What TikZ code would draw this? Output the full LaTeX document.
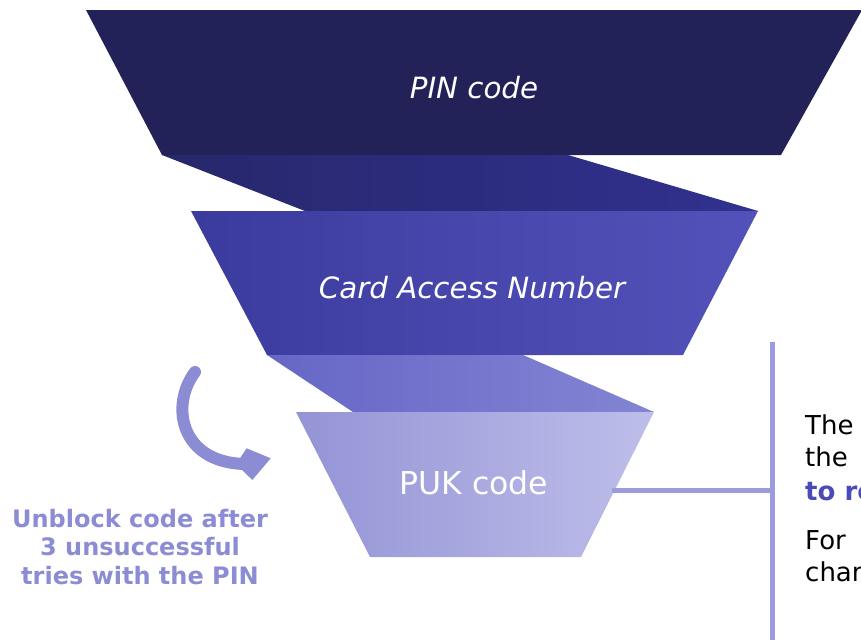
\documentclass[tikz,border=0pt]{standalone}
\usepackage{fontspec}
\setmainfont{DejaVu Sans}
\definecolor{cTop}{HTML}{222259}
\definecolor{cBandAl}{HTML}{27276C}
\definecolor{cBandAr}{HTML}{313190}
\definecolor{cMidl}{HTML}{3B3B9E}
\definecolor{cMidr}{HTML}{5252BA}
\definecolor{cBandBl}{HTML}{6666C6}
\definecolor{cBandBr}{HTML}{8484D4}
\definecolor{cLowl}{HTML}{9494D6}
\definecolor{cLowr}{HTML}{BEBEEA}
\definecolor{cArrow}{HTML}{8C8CD4}
\definecolor{cLine}{HTML}{9C9CDC}
\definecolor{cEmph}{HTML}{4A4AB8}
\tikzset{
  biglabel/.style={text=white, inner sep=0pt, font=\fontsize{29}{34}\selectfont},
  sidetext/.style={anchor=west, inner sep=0pt, text=black, font=\fontsize{26}{30}\selectfont},
  connline/.style={draw=cLine, line width=5pt},
}
\begin{document}
\begin{tikzpicture}[x=1pt,y=-1pt]
\useasboundingbox (0,0) rectangle (861,640);
\begin{scope}
\clip (0,0) rectangle (861,640);
% funnel
\fill[cTop] (86,10) -- (862,10) -- (781,155) -- (162,155) -- cycle;
\shade[left color=cBandAl, right color=cBandAr] (162,155) -- (568,155) -- (758,211) -- (305,211) -- cycle;
\shade[left color=cMidl, right color=cMidr] (191,211) -- (758,211) -- (683,355) -- (267,355) -- cycle;
\shade[left color=cBandBl, right color=cBandBr] (267,355) -- (523,355) -- (654,412) -- (353,412) -- cycle;
\shade[left color=cLowl, right color=cLowr] (296,412) -- (654,412) -- (581,557) -- (370,557) -- cycle;

\node[biglabel, font=\fontsize{29.3}{34}\selectfont\itshape] (pin) at (474,88) {PIN code};
\node[biglabel, font=\fontsize{29.3}{34}\selectfont\itshape] (can) at (472,288) {Card Access Number};
\node[biglabel, font=\fontsize{31.5}{36}\selectfont] (puk) at (474,483) {PUK code};

% curved arrow
\coordinate (arcS) at (195,372);
\coordinate (arcE) at (244,464);
\draw[cArrow, line width=12pt, line cap=round] (arcS) .. controls (170,405) and (180,462) .. (arcE);
\fill[cArrow] (246.7,448.3) -- (270.7,458.3) -- (252.3,480) -- (236,464) -- cycle;

\node[inner sep=0pt, align=center, text=cArrow, font=\fontsize{24}{28.5}\selectfont\bfseries] (unblock) at (140,547) {Unblock code after\\3 unsuccessful\\tries with the PIN};

% connector lines
\coordinate (hS) at (612,490);
\coordinate (hE) at (772,490);
\coordinate (vT) at (772,342);
\coordinate (vB) at (772,640);
\draw[connline] (hS) -- (hE);
\draw[connline] (vT) -- (vB);

% right-hand text (cut by the picture edge, as in the reference)
\node[sidetext] (t1) at (805,425) {The};
\node[sidetext] (t2) at (805,457) {the};
\node[sidetext, text=cEmph, font=\fontsize{26}{30}\selectfont\bfseries] (t3) at (805,492) {to re};
\node[sidetext] (t4) at (805,540) {For};
\node[sidetext] (t5) at (805,572) {char};
\end{scope}
\end{tikzpicture}
\end{document}
